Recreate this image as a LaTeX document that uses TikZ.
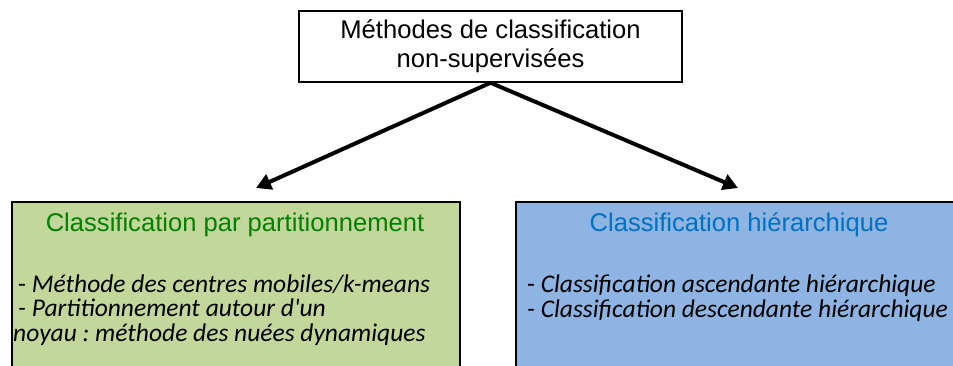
\documentclass[tikz,border=0pt]{standalone}
\usepackage{fontspec}
\setmainfont{Liberation Sans}
\newfontfamily\calfont{Carlito}
\usetikzlibrary{arrows.meta}
\frenchspacing
\definecolor{greenfill}{RGB}{196,215,155}
\definecolor{bluefill}{RGB}{141,180,226}
\definecolor{greentext}{RGB}{0,128,0}
\definecolor{bluetext}{RGB}{0,112,192}
\tikzset{
  box/.style={draw=black, line width=1.5pt, inner sep=0pt},
  headtext/.style={anchor=base, inner sep=0pt, font=\fontsize{25.6}{29}\selectfont},
  bodytext/.style={anchor=base west, inner sep=0pt, font=\calfont\fontsize{25.5}{28}\selectfont\itshape},
  arr/.style={line width=4pt, -{Triangle[length=15pt,width=16pt]}}
}
\begin{document}
\begin{tikzpicture}[x=1pt,y=-1pt]
\useasboundingbox (0,0) rectangle (953,365);
\clip (0,0) rectangle (953,365);
\node[box, fill=white, minimum width=383pt, minimum height=71pt, align=center,
      font=\fontsize{25.6}{29}\selectfont] (top) at (490.5,46.5)
      {Méthodes de classification\\non-supervisées};
\node[box, fill=greenfill, minimum width=448pt, minimum height=200pt, anchor=north west] (left) at (11,201) {};
\node[box, fill=bluefill, minimum width=460pt, minimum height=200pt, anchor=north west] (right) at (515,201) {};
\node[headtext, text=greentext] (lh) at (235,231) {Classification par partitionnement};
\node[headtext, text=bluetext] (rh) at (739,231) {Classification hiérarchique};
\node[bodytext] (l1) at (18,292) {{\upshape -} Méthode des centres mobiles/k-means};
\node[bodytext] (l2) at (18,316) {- Partitionnement autour d'un};
\node[bodytext] (l3) at (13,341) {noyau : méthode des nuées dynamiques};
\node[bodytext] (r1) at (527,292) {{\upshape -} Classification ascendante hiérarchique};
\node[bodytext] (r2) at (527,317) {- Classification descendante hiérarchique};
\coordinate (la) at (256,188);
\coordinate (ra) at (738,188);
\draw[arr] (top.south) -- (la);
\draw[arr] (top.south) -- (ra);
\end{tikzpicture}
\end{document}
